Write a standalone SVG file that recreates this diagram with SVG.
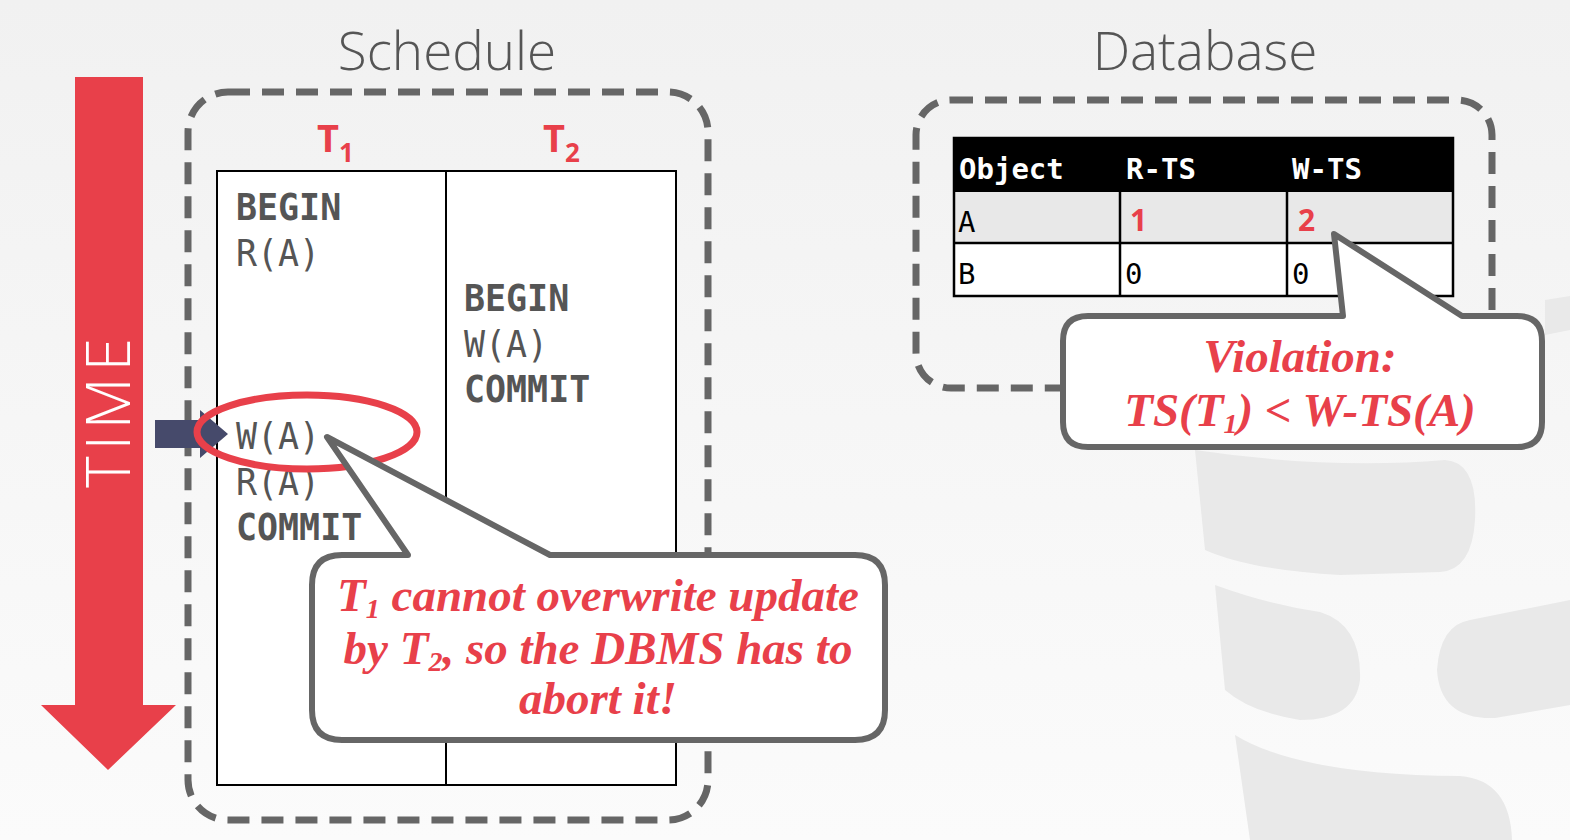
<svg xmlns="http://www.w3.org/2000/svg" width="1570" height="840" viewBox="0 0 1570 840">
<defs>
<linearGradient id="bg" x1="0" y1="0" x2="0" y2="1">
<stop offset="0" stop-color="#f1f1f1"/>
<stop offset="1" stop-color="#fbfbfb"/>
</linearGradient>
<style>
.title{font-family:"Open Sans","Liberation Sans",sans-serif;font-weight:300;font-size:53px;fill:#555}
.dash{fill:none;stroke:#666;stroke-width:7;stroke-dasharray:22 12}
.mono{font-family:"DejaVu Sans Mono","Liberation Mono",monospace;font-size:38px;fill:#555}
.b{font-weight:bold}
.tl{font-family:"Open Sans","Liberation Sans",sans-serif;font-weight:bold;font-size:38px;fill:#e8404a}
.call{fill:#fff;stroke:#666;stroke-width:6;stroke-linejoin:round}
.ct{font-family:"Liberation Serif",serif;font-style:italic;font-weight:bold;font-size:47px;fill:#e8404a;text-anchor:middle}
.tab{font-family:"DejaVu Sans Mono","Liberation Mono",monospace;font-size:29px;fill:#000}
.wm{fill:#e9e9e9}
</style>
</defs>
<rect width="1570" height="840" fill="url(#bg)"/>
<g id="watermark">
<path class="wm" d="M1195 450 Q1330 470 1445 460 Q1478 462 1475 520 Q1472 570 1440 572 L1340 575 Q1250 570 1205 550 Z"/>
<path class="wm" d="M1215 585 Q1270 605 1320 612 Q1362 625 1360 680 Q1355 720 1300 720 Q1250 712 1225 690 Z"/>
<path class="wm" d="M1470 620 L1570 600 L1570 705 L1495 718 Q1440 720 1437 670 Q1440 625 1470 620 Z"/>
<path class="wm" d="M1235 735 Q1300 775 1460 776 Q1510 780 1512 840 L1250 840 Z"/>
<path class="wm" d="M1545 300 L1570 296 L1570 330 L1545 335 Z"/>
</g>
<g id="time-arrow">
<path d="M75 77 H143 V705 H176 L108 770 L41 705 H75 Z" fill="#e8404a"/>
<text transform="translate(130,410) rotate(-90)" text-anchor="middle" font-family="Open Sans, Liberation Sans, sans-serif" font-weight="300" font-size="60" fill="#fff" letter-spacing="6">TIME</text>
</g>
<g id="schedule">
<text class="title" x="447" y="70" text-anchor="middle">Schedule</text>
<rect class="dash" x="188" y="92" width="520" height="728" rx="40"/>
<rect x="217" y="171" width="459" height="614" fill="#fff" stroke="#000" stroke-width="2"/>
<line x1="446" y1="171" x2="446" y2="785" stroke="#000" stroke-width="2"/>
<text class="tl" x="317" y="152">T<tspan font-size="26" dy="10">1</tspan></text>
<text class="tl" x="543" y="152">T<tspan font-size="26" dy="10">2</tspan></text>
<g transform="translate(236,0) scale(0.92,1)">
<text class="mono b" x="0" y="220">BEGIN</text>
<text class="mono" x="0" y="266">R(A)</text>
<text class="mono" x="0" y="449">W(A)</text>
<text class="mono" x="0" y="495">R(A)</text>
<text class="mono b" x="0" y="540">COMMIT</text>
</g>
<g transform="translate(464,0) scale(0.92,1)">
<text class="mono b" x="0" y="311">BEGIN</text>
<text class="mono" x="0" y="357">W(A)</text>
<text class="mono b" x="0" y="402">COMMIT</text>
</g>
</g>
<g id="pointer">
<path d="M155 420 H200 V410 L228 434 L200 458 V448 H155 Z" fill="#464a6b"/>
</g>
<g id="highlight">
<ellipse cx="307" cy="432" rx="110" ry="37" fill="none" stroke="#e8404a" stroke-width="7"/>
</g>
<g id="callout-abort">
<path class="call" d="M342 555 H408 L327 437 L550 555 H855 Q885 555 885 585 V710 Q885 740 855 740 H342 Q312 740 312 710 V585 Q312 555 342 555 Z"/>
<text class="ct" x="598" y="611">T<tspan font-size="28" dy="7">1</tspan><tspan dy="-7"> cannot overwrite update</tspan></text>
<text class="ct" x="598" y="664">by T<tspan font-size="28" dy="7">2</tspan><tspan dy="-7">, so the DBMS has to</tspan></text>
<text class="ct" x="598" y="714">abort it!</text>
</g>
<g id="database">
<text class="title" x="1205" y="70" text-anchor="middle">Database</text>
<rect class="dash" x="916" y="100" width="576" height="288" rx="35"/>
<rect x="954" y="138" width="499" height="54" fill="#000"/>
<rect x="954" y="192" width="499" height="51" fill="#e8e8e8"/>
<rect x="954" y="243" width="499" height="53" fill="#fff"/>
<g stroke="#000" stroke-width="2.5" fill="none">
<rect x="954" y="138" width="499" height="158"/>
<line x1="954" y1="243" x2="1453" y2="243"/>
<line x1="1120" y1="192" x2="1120" y2="296"/>
<line x1="1287" y1="192" x2="1287" y2="296"/>
</g>
<text class="tab b" x="959" y="179" style="fill:#fff">Object</text>
<text class="tab b" x="1126" y="179" style="fill:#fff">R-TS</text>
<text class="tab b" x="1292" y="179" style="fill:#fff">W-TS</text>
<text class="tab" x="958" y="232">A</text>
<text class="tab b" x="1130" y="231" style="fill:#e8404a;font-family:'Open Sans','Liberation Sans',sans-serif;font-size:30px">1</text>
<text class="tab b" x="1298" y="231" style="fill:#e8404a;font-family:'Open Sans','Liberation Sans',sans-serif;font-size:30px">2</text>
<text class="tab" x="958" y="284">B</text>
<text class="tab" x="1125" y="284">0</text>
<text class="tab" x="1292" y="284">0</text>
</g>
<g id="callout-violation">
<path class="call" d="M1088 316 H1343 L1334 234 L1462 316 H1517 Q1542 316 1542 341 V422 Q1542 447 1517 447 H1088 Q1063 447 1063 422 V341 Q1063 316 1088 316 Z"/>
<text class="ct" x="1300" y="372">Violation:</text>
<text class="ct" x="1300" y="426">TS(T<tspan font-size="28" dy="7">1</tspan><tspan dy="-7">) &lt; W-TS(A)</tspan></text>
</g>
</svg>
